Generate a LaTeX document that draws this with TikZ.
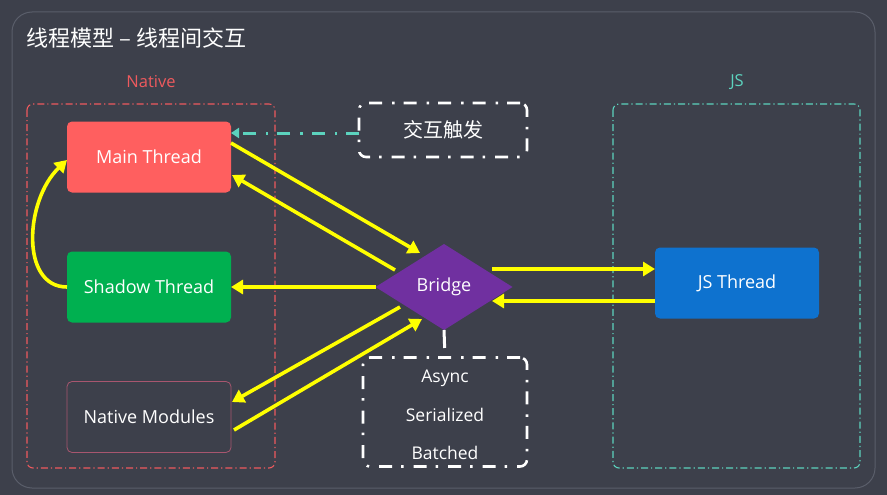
\documentclass[tikz,border=0pt]{standalone}
\usepackage{fontspec}
\setmainfont{Open Sans}
\newfontfamily\cjk{Noto Sans CJK SC}
\usetikzlibrary{shapes.geometric,arrows.meta,calc}
\definecolor{bgcol}{HTML}{3D404B}
\definecolor{panelcol}{HTML}{5A5E6A}
\definecolor{maincol}{HTML}{FF5F5F}
\definecolor{shadowcol}{HTML}{00B050}
\definecolor{modcol}{HTML}{A8566F}
\definecolor{bridgecol}{HTML}{7030A0}
\definecolor{jscol}{HTML}{0E72CF}
\definecolor{nativecol}{HTML}{EE5A5E}
\definecolor{tealcol}{HTML}{5CD3BE}
\definecolor{linkcol}{HTML}{FFFF00}

\begin{document}
\begin{tikzpicture}[x=1pt, y=-1pt, every node/.style={inner sep=1pt,outer sep=0, text=white},
	thread/.style={rounded corners=5pt, minimum width=164pt, minimum height=71pt, font=\fontsize{18}{20}\selectfont},
	frame/.style={line width=1.1pt, rounded corners=6pt, dash pattern=on 7pt off 3pt on 1.2pt off 3pt},
	chalkbox/.style={draw=white, line width=2.6pt, rounded corners=7pt, dash pattern=on 13pt off 9pt on 2.5pt off 10pt},
	link/.style={linkcol, line width=3.6pt, -{Triangle[width=14pt,length=12pt]}},
	label/.style={font=\fontsize{16.5}{20}\selectfont}]

		\fill[bgcol] (0,0) rectangle (887,495);
		\draw[panelcol, line width=1pt, rounded corners=20pt] (12,12) rectangle (875,488);
		\node[anchor=west, font=\cjk\fontsize{22}{26}\selectfont] (title) at (26,38) {线程模型 – 线程间交互};

		\draw[frame, nativecol] (27,104) rectangle (275,468);
		\draw[frame, tealcol] (613,104) rectangle (860,468);
		\node[label, text=nativecol] (native) at (151,82) {Native};
		\node[label, text=tealcol] (jslabel) at (737,82) {JS};

		\node[thread, fill=maincol] (main) at (149,157) {Main Thread};
		\node[thread, fill=shadowcol] (shadow) at (149,287) {Shadow Thread};
		\node[thread, draw=modcol, line width=0.8pt] (natmod) at (149,417) {Native Modules};
		\node[thread, fill=jscol] (js) at (737,283) {JS Thread};
		\node[diamond, fill=bridgecol, inner sep=0, minimum width=137pt, minimum height=86pt, font=\fontsize{18}{20}\selectfont] (bridge) at (444,287) {Bridge};

		\node[chalkbox, minimum width=168pt, minimum height=54pt, font=\cjk\fontsize{20}{24}\selectfont] (trigger) at (443,130) {交互触发};
		\node[chalkbox, minimum width=164pt, minimum height=109pt, align=center, font=\fontsize{17.5}{38.5}\selectfont] (props) at (445,412) {};
		\node[font=\fontsize{17.5}{38.5}\selectfont, align=center] (proptext) at (445,415) {Async\\Serialized\\Batched};

		\draw[tealcol, line width=3pt, dash pattern=on 13pt off 9pt on 2.5pt off 10pt, -{Triangle[width=10pt,length=8pt]}] ($(trigger.west)+(0,3)$) -- ($(trigger.west -| main.east)+(0,3)$);
		\draw[white, line width=3pt, dash pattern=on 18pt off 20pt] (bridge.south) -- (props.north);

		\draw[link] ($(main.east)+(0,-14)$) -- ($(bridge)+(-24,-34)$);
		\draw[link] ($(bridge)+(-49,-17)$) -- ($(main.east)+(1,18)$);
		\draw[link] (bridge.west) -- (shadow.east);
		\draw[link] ($(bridge)+(-44,20)$) -- ($(natmod.east)+(1,-15)$);
		\draw[link] ($(natmod.east)+(3,13)$) -- ($(bridge)+(-22,32)$);
		\draw[link] ($(bridge)+(48,-18)$) -- ($(js.west)+(0,-14)$);
		\draw[link] ($(js.west)+(0,18)$) -- ($(bridge)+(48,14)$);
		\draw[link] (shadow.west) .. controls ($(shadow.west)+(-47,0)$) and ($(main.west)+(-42,43)$) .. ($(main.west)+(0,3)$);

	\end{tikzpicture}
\end{document}
